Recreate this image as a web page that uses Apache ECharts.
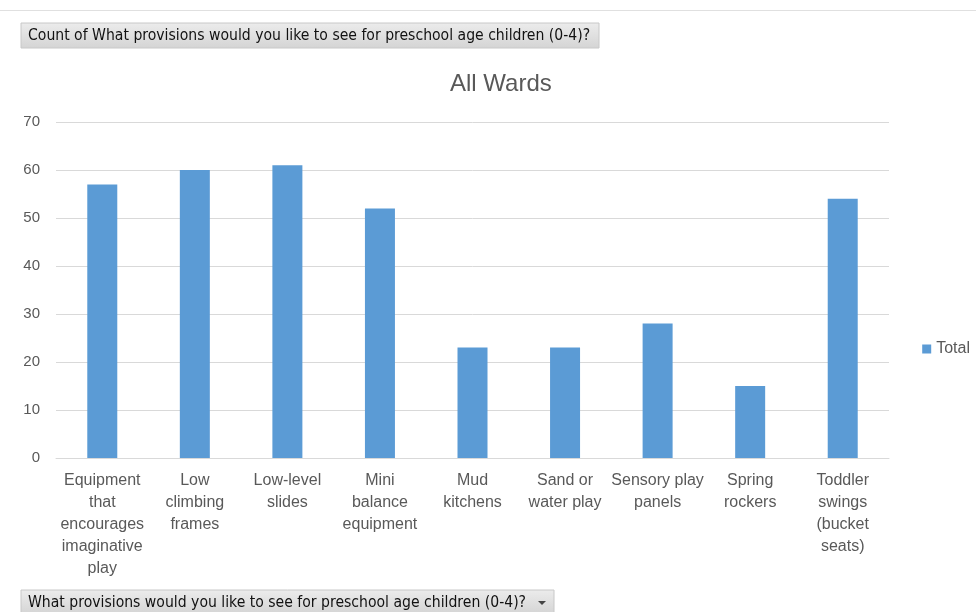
<!DOCTYPE html>
<html><head><meta charset="utf-8">
<script src="https://cdn.jsdelivr.net/npm/echarts@6/dist/echarts.min.js"></script>
<style>html,body{margin:0;padding:0;background:#fff;}#c{width:976px;height:612px;}</style>
</head><body><div id="c"></div>
<script>
const categories = [
  "Equipment\nthat\nencourages\nimaginative\nplay",
  "Low\nclimbing\nframes",
  "Low-level\nslides",
  "Mini\nbalance\nequipment",
  "Mud\nkitchens",
  "Sand or\nwater play",
  "Sensory play\npanels",
  "Spring\nrockers",
  "Toddler\nswings\n(bucket\nseats)"
];
const totals = [57, 60, 61, 52, 23, 23, 28, 15, 54];
const yTicks = { min: 0, max: 70, interval: 10 };
const titleText = "All Wards";
const seriesName = "Total";
const headerTop = "Count of What provisions would you like to see for preschool age children (0-4)?";
const headerBottom = "What provisions would you like to see for preschool age children (0-4)?";

const chart = echarts.init(document.getElementById('c'), null, {renderer: 'canvas'});
const labelFont = "'Liberation Sans', Arial, sans-serif";
const hdrFont = "'DejaVu Sans Condensed', 'DejaVu Sans', sans-serif";
const hdrFill = new echarts.graphic.LinearGradient(0, 0, 0, 1, [
  {offset: 0, color: '#ececec'}, {offset: 1, color: '#d4d4d4'}
]);
chart.setOption({
  animation: false,
  backgroundColor: '#ffffff',
  title: {
    text: titleText, left: 445, top: 67,
    textStyle: {color: '#595959', fontSize: 24, fontWeight: 'normal', fontFamily: labelFont}
  },
  legend: {
    data: [seriesName], right: 1, top: 336, orient: 'vertical',
    icon: 'rect', itemWidth: 9, itemHeight: 9, itemGap: 4,
    textStyle: {color: '#595959', fontSize: 16, fontFamily: labelFont}
  },
  grid: {left: 56, right: 87, top: 122, bottom: 154, containLabel: false},
  xAxis: {
    type: 'category', data: categories,
    axisLine: {lineStyle: {color: '#d9d9d9'}},
    axisTick: {show: false},
    axisLabel: {color: '#595959', fontSize: 16, fontFamily: labelFont, lineHeight: 22, margin: 12, interval: 0, align: 'center'}
  },
  yAxis: {
    type: 'value', min: yTicks.min, max: yTicks.max, interval: yTicks.interval,
    axisLine: {show: false}, axisTick: {show: false},
    splitLine: {lineStyle: {color: '#d9d9d9', width: 1}},
    axisLabel: {color: '#595959', fontSize: 15, fontFamily: labelFont, margin: 16}
  },
  series: [{
    name: seriesName, type: 'bar', data: totals, barWidth: 30,
    itemStyle: {color: '#5B9BD5'}
  }],
  graphic: [
    {type: 'line', shape: {x1: 0, y1: 10.5, x2: 976, y2: 10.5}, style: {stroke: '#e0e0e0', lineWidth: 1}},
    {type: 'rect', shape: {x: 21, y: 23, width: 578, height: 25}, style: {fill: hdrFill, stroke: '#c8c8c8', lineWidth: 1}},
    {type: 'text', x: 28, y: 35.5, style: {text: headerTop, fill: '#111', fontSize: 15.6, fontFamily: hdrFont, verticalAlign: 'middle'}},
    {type: 'rect', shape: {x: 21, y: 590, width: 533, height: 24}, style: {fill: hdrFill, stroke: '#c8c8c8', lineWidth: 1}},
    {type: 'text', x: 28, y: 603, style: {text: headerBottom, fill: '#111', fontSize: 15.6, fontFamily: hdrFont, verticalAlign: 'middle'}},
    {type: 'polygon', shape: {points: [[538, 601], [546, 601], [542, 605]]}, style: {fill: '#444'}}
  ]
});
</script>
</body></html>
